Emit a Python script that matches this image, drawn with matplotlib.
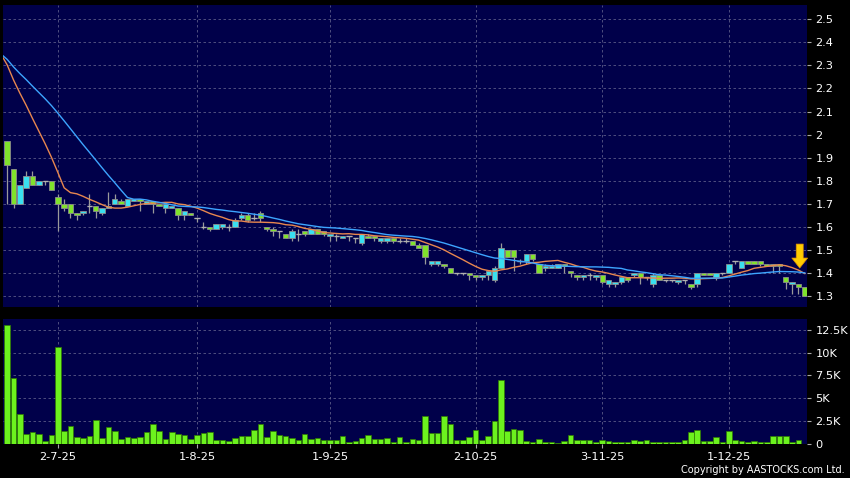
import numpy as np
import matplotlib
matplotlib.use('Agg')
from matplotlib import pyplot as plt

# daily OHLC (HKD)
opens = [1.97, 1.85, 1.70, 1.77, 1.82, 1.78, 1.80, 1.80, 1.73, 1.70,
         1.70, 1.66, 1.66, 1.69, 1.69, 1.66, 1.68, 1.70, 1.71, 1.69,
         1.71, 1.72, 1.70, 1.71, 1.70, 1.68, 1.68, 1.68, 1.65, 1.66,
         1.64, 1.60, 1.60, 1.59, 1.60, 1.60, 1.60, 1.64, 1.65, 1.64,
         1.66, 1.60, 1.59, 1.58, 1.57, 1.55, 1.57, 1.58, 1.57, 1.59,
         1.58, 1.56, 1.56, 1.55, 1.56, 1.55, 1.53, 1.56, 1.56, 1.54,
         1.54, 1.55, 1.54, 1.54, 1.54, 1.52, 1.52, 1.44, 1.44, 1.44,
         1.42, 1.40, 1.40, 1.40, 1.39, 1.38, 1.39, 1.37, 1.42, 1.50,
         1.50, 1.45, 1.45, 1.48, 1.44, 1.42, 1.42, 1.42, 1.44, 1.41,
         1.39, 1.38, 1.39, 1.38, 1.39, 1.35, 1.35, 1.36, 1.38, 1.39,
         1.40, 1.38, 1.35, 1.39, 1.37, 1.37, 1.36, 1.37, 1.35, 1.35,
         1.40, 1.40, 1.38, 1.40, 1.40, 1.45, 1.42, 1.45, 1.45, 1.45,
         1.44, 1.44, 1.44, 1.38, 1.35, 1.35, 1.34]
highs = [1.97, 1.85, 1.78, 1.84, 1.84, 1.80, 1.80, 1.80, 1.74, 1.72,
         1.70, 1.66, 1.67, 1.74, 1.69, 1.68, 1.75, 1.74, 1.72, 1.72,
         1.72, 1.72, 1.71, 1.71, 1.70, 1.70, 1.69, 1.68, 1.67, 1.66,
         1.64, 1.62, 1.60, 1.61, 1.61, 1.61, 1.64, 1.66, 1.66, 1.66,
         1.67, 1.60, 1.60, 1.58, 1.57, 1.59, 1.59, 1.58, 1.59, 1.59,
         1.58, 1.57, 1.57, 1.56, 1.56, 1.55, 1.57, 1.57, 1.56, 1.55,
         1.55, 1.55, 1.55, 1.55, 1.54, 1.53, 1.52, 1.45, 1.45, 1.44,
         1.42, 1.40, 1.40, 1.40, 1.39, 1.39, 1.41, 1.43, 1.53, 1.50,
         1.50, 1.46, 1.48, 1.48, 1.44, 1.44, 1.44, 1.44, 1.44, 1.41,
         1.39, 1.39, 1.40, 1.39, 1.39, 1.37, 1.36, 1.38, 1.38, 1.40,
         1.40, 1.38, 1.40, 1.39, 1.37, 1.37, 1.37, 1.37, 1.35, 1.40,
         1.40, 1.40, 1.40, 1.40, 1.44, 1.45, 1.45, 1.45, 1.45, 1.45,
         1.44, 1.44, 1.44, 1.38, 1.36, 1.35, 1.34]
lows = [1.70, 1.68, 1.70, 1.77, 1.78, 1.78, 1.78, 1.76, 1.58, 1.67,
        1.64, 1.63, 1.65, 1.66, 1.64, 1.65, 1.68, 1.70, 1.70, 1.69,
        1.71, 1.67, 1.70, 1.66, 1.69, 1.66, 1.68, 1.63, 1.63, 1.65,
        1.62, 1.59, 1.58, 1.59, 1.59, 1.58, 1.60, 1.63, 1.62, 1.63,
        1.62, 1.58, 1.56, 1.55, 1.55, 1.54, 1.54, 1.56, 1.57, 1.57,
        1.56, 1.54, 1.54, 1.55, 1.54, 1.53, 1.52, 1.55, 1.54, 1.53,
        1.53, 1.53, 1.53, 1.53, 1.52, 1.51, 1.44, 1.43, 1.43, 1.42,
        1.40, 1.39, 1.39, 1.37, 1.37, 1.37, 1.37, 1.36, 1.42, 1.47,
        1.41, 1.44, 1.44, 1.45, 1.40, 1.41, 1.42, 1.42, 1.40, 1.38,
        1.37, 1.37, 1.37, 1.37, 1.35, 1.34, 1.34, 1.35, 1.36, 1.38,
        1.35, 1.37, 1.34, 1.37, 1.36, 1.36, 1.35, 1.35, 1.33, 1.34,
        1.39, 1.39, 1.37, 1.39, 1.40, 1.44, 1.42, 1.44, 1.44, 1.43,
        1.43, 1.40, 1.40, 1.33, 1.31, 1.31, 1.30]
closes = [1.87, 1.70, 1.78, 1.82, 1.78, 1.80, 1.80, 1.76, 1.70, 1.68,
          1.66, 1.65, 1.67, 1.69, 1.67, 1.68, 1.69, 1.72, 1.70, 1.72,
          1.72, 1.71, 1.71, 1.70, 1.69, 1.70, 1.69, 1.65, 1.67, 1.65,
          1.64, 1.60, 1.59, 1.61, 1.61, 1.60, 1.63, 1.65, 1.63, 1.64,
          1.64, 1.59, 1.58, 1.58, 1.55, 1.58, 1.57, 1.57, 1.59, 1.57,
          1.57, 1.57, 1.56, 1.56, 1.56, 1.55, 1.57, 1.55, 1.55, 1.55,
          1.55, 1.54, 1.54, 1.54, 1.52, 1.51, 1.47, 1.45, 1.45, 1.43,
          1.40, 1.40, 1.40, 1.39, 1.38, 1.39, 1.41, 1.42, 1.51, 1.47,
          1.47, 1.45, 1.48, 1.46, 1.40, 1.43, 1.43, 1.44, 1.43, 1.40,
          1.38, 1.39, 1.39, 1.39, 1.36, 1.37, 1.36, 1.38, 1.37, 1.40,
          1.38, 1.38, 1.39, 1.37, 1.37, 1.37, 1.37, 1.37, 1.34, 1.40,
          1.39, 1.39, 1.40, 1.40, 1.44, 1.45, 1.45, 1.44, 1.44, 1.44,
          1.43, 1.43, 1.43, 1.36, 1.36, 1.34, 1.30]
volumes = [13060, 7240, 3200, 1030, 1250, 1060, 330, 920, 10600, 1430,
           1950, 730, 660, 880, 2540, 660, 1770, 1430, 550, 770,
           620, 770, 1320, 2100, 1430, 470, 1280, 1030, 990, 470,
           920, 1210, 1320, 440, 400, 250, 590, 840, 840, 1500,
           2130, 700, 1340, 970, 840, 590, 420, 1040, 450, 600,
           360, 400, 420, 800, 140, 330, 600, 950, 510, 510,
           590, 140, 710, 140, 450, 440, 3050, 1210, 1170, 2980,
           2100, 370, 440, 700, 1540, 370, 800, 2500, 7000, 1390,
           1580, 1470, 250, 140, 550, 220, 140, 70, 250, 920,
           440, 440, 440, 140, 440, 250, 140, 140, 140, 370,
           250, 440, 180, 140, 140, 220, 140, 440, 1320, 1500,
           330, 290, 700, 140, 1390, 440, 250, 220, 250, 220,
           140, 800, 800, 800, 180, 370, 0]
# closes before the window, needed for the moving averages
prior_closes = [2.35] * 20

tick_pos = [8, 30, 51, 74, 94, 114]
tick_labels = ['2-7-25', '1-8-25', '1-9-25', '2-10-25', '3-11-25', '1-12-25']

n = len(closes)
x = np.arange(n)
o = np.array(opens)
c = np.array(closes)

allc = np.array(prior_closes + closes)
ma10 = np.convolve(allc, np.ones(10) / 10, mode='valid')[-(n + 1):]
ma20 = np.convolve(allc, np.ones(20) / 20, mode='valid')[-(n + 1):]
xm = np.arange(-1, n)

bg = '#00004a'
gridc = '#5a5a88'
upc = '#3ae0f0'
downc = '#80e22c'

fig = plt.figure(figsize=(8.5, 4.78), dpi=100, facecolor='black')
ax1 = fig.add_axes([3 / 850, 171 / 478, 804 / 850, 302 / 478])
ax2 = fig.add_axes([3 / 850, 34.5 / 478, 804 / 850, 124.5 / 478])

for ax in (ax1, ax2):
    ax.set_facecolor(bg)
    for s in ax.spines.values():
        s.set_visible(False)
    ax.set_xlim(-0.66, 126.35)
    ax.set_xticks(tick_pos)
    ax.grid(True, color=gridc, linestyle=(0, (3, 3)), linewidth=0.6)
    ax.set_axisbelow(True)
    ax.yaxis.tick_right()
    ax.tick_params(axis='y', colors='white', labelsize=8.2, length=3,
                   pad=3, color='#aaaaaa')

# price panel
ax1.set_ylim(1.252, 2.562)
yt = np.round(np.arange(1.3, 2.51, 0.1), 1)
ax1.set_yticks(yt)
ax1.set_yticklabels(['%g' % v for v in yt])
ax1.tick_params(axis='x', length=0, labelbottom=False)

ax1.vlines(x, lows, highs, color='#9a9a9a', linewidth=0.9, zorder=2)
body_col = np.where(c > o, upc, np.where(c < o, downc, '#b0b0b0'))
ax1.bar(x, np.abs(c - o), bottom=np.minimum(o, c), width=0.85,
        color=body_col, edgecolor='#8c8c8c', linewidth=0.6, zorder=3)
doji = c == o
ax1.hlines(c[doji], x[doji] - 0.42, x[doji] + 0.42, color='#b0b0b0',
           linewidth=1, zorder=3)

ax1.plot(xm, ma10, color='#e8874f', linewidth=1, zorder=4)
ax1.plot(xm, ma20, color='#3da5ff', linewidth=1, zorder=4)

ax1.annotate('', xy=(125.2, 1.421), xytext=(125.2, 1.525),
             arrowprops=dict(arrowstyle='simple,head_length=0.6,head_width=0.95,tail_width=0.42',
                             mutation_scale=12, fc='#ffcc00', ec='#e09000',
                             lw=0.5, shrinkA=0, shrinkB=0), zorder=5)

# volume panel
ax2.bar(x, volumes, width=0.88, color='#6cf21e', edgecolor='#2f7a00',
        linewidth=0.5, zorder=3)
ax2.set_ylim(0, 13720)
ax2.set_yticks([0, 2500, 5000, 7500, 10000, 12500])
ax2.set_yticklabels(['0', '2.5K', '5K', '7.5K', '10K', '12.5K'])
ax2.set_xticklabels(tick_labels)
ax2.tick_params(axis='x', colors='white', labelsize=8.2, length=3,
                pad=3, color='#aaaaaa')

fig.text(0.994, 0.006, 'Copyright by AASTOCKS.com Ltd.', ha='right',
         va='bottom', color='white', fontsize=7)

fig.savefig('out.png', dpi=100, facecolor='black')
